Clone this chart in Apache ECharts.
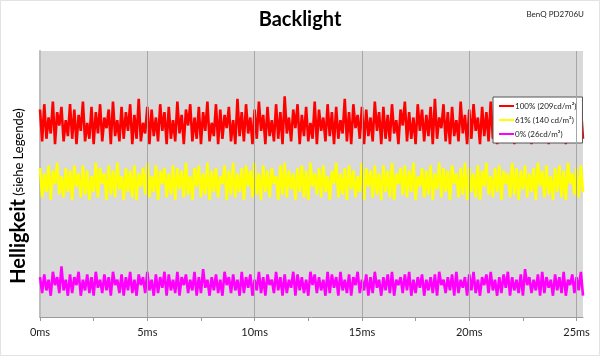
<!DOCTYPE html>
<html><head><meta charset="utf-8">
<script src="https://cdn.jsdelivr.net/npm/echarts@6/dist/echarts.min.js"></script>
<style>html,body{margin:0;padding:0;background:#fff}#c{width:598px;height:354px;border:1px solid #e3e3e3}</style>
</head><body><div id="c"></div>
<script>
const stepMs = 0.1;
const xLabelMs = [0, 5, 10, 15, 20, 25];
const xTickMs = [0, 2.5, 5, 7.5, 10, 12.5, 15, 17.5, 20, 22.5, 25];
const seriesNames = ['100% (209cd/m²)', '61% (140 cd/m²)', '0% (26cd/m²)'];
const red = [
78,66,80,67,75,69,81,65,77,72,79,66,74,68,80,67,78,65,76,70,
81,66,73,67,79,65,77,69,80,66,75,71,78,65,81,68,74,66,79,67,
77,70,80,65,76,67,82,66,73,69,79,65,78,68,75,66,80,70,77,65,
79,67,74,66,81,69,76,65,78,72,80,66,75,67,79,65,77,70,81,66,
73,68,80,65,78,67,76,71,79,66,74,65,82,68,77,66,80,69,75,65,
78,67,81,70,76,65,79,68,74,66,80,67,77,65,83,69,75,66,78,71,
80,65,76,68,79,66,73,67,81,65,78,70,75,66,80,68,77,65,79,67,
74,69,82,66,77,65,80,71,76,67,79,65,78,68,75,66,81,70,77,65,
79,67,76,66,80,69,74,65,78,72,81,66,77,67,75,65,80,70,78,66,
76,68,79,65,82,67,75,71,80,66,77,65,79,68,74,66,81,69,76,65,
78,67,80,70,75,65,79,68,77,66,81,67,74,65,78,69,80,66,76,71,
79,65,77,68,81,66,75,67,80,65,78,70,76,66,79,68,82,65,77,67,
80,69,75,66,79,65,77,71,81,66,76,68,79,67];
const yellow = [
56,45,54,47,57,44,55,50,58,46,53,45,56,47,55,44,57,49,54,45,
57,46,55,44,53,47,58,45,56,50,54,44,57,46,55,45,58,48,53,44,
56,47,55,45,57,44,54,49,56,46,58,45,53,47,57,44,55,50,56,45,
54,46,57,44,56,48,55,45,58,46,53,44,56,49,57,45,54,46,58,44,
55,47,56,45,53,50,57,44,55,46,58,45,54,47,56,44,57,49,55,45,
58,46,54,44,57,47,55,45,56,50,53,44,57,46,58,45,55,48,54,44,
56,47,57,45,55,44,58,49,54,46,56,45,57,47,53,44,55,50,58,45,
54,46,56,44,57,48,55,45,53,47,58,44,56,49,55,45,57,46,54,44,
57,47,55,45,58,44,54,50,56,46,57,45,55,47,58,44,53,49,56,45,
55,46,57,44,54,48,58,45,56,47,55,44,57,50,54,45,56,46,58,44,
56,47,54,45,57,44,55,49,58,46,53,45,56,47,57,44,55,50,54,45,
58,46,56,44,55,48,57,45,54,47,56,44,58,49,55,45,57,46,53,44,
56,47,57,45,55,44,58,50,54,46,56,45,57,47];
const magenta = [
15,9,16,10,14,8,17,12,15,9,19,10,14,8,16,9,15,12,17,8,
14,10,16,9,15,8,17,11,14,9,16,10,15,8,17,12,14,9,16,8,
15,10,17,9,14,8,16,12,15,9,17,10,14,8,16,9,15,11,17,8,
16,10,14,9,17,8,15,12,16,9,14,10,17,8,15,9,18,11,14,8,
15,10,16,9,14,8,17,12,15,9,16,10,14,8,17,9,15,11,16,8,
14,10,17,9,15,8,16,12,14,9,17,10,15,8,16,9,14,11,17,8,
16,10,15,9,14,8,17,12,16,9,15,10,14,8,17,9,16,11,15,8,
17,10,14,9,16,8,15,12,17,9,14,10,16,8,15,9,17,11,14,8,
15,10,16,9,17,8,14,12,15,9,16,10,17,8,14,9,15,11,16,8,
14,10,15,9,16,8,17,12,14,9,15,10,16,8,17,9,14,11,15,8,
16,10,17,9,14,8,15,12,16,9,17,10,14,8,15,9,16,11,17,8,
15,10,14,9,16,8,18,12,15,9,14,10,16,8,17,9,15,11,14,8,
16,10,15,9,17,8,14,12,16,9,15,10,17,8];

const toPairs = arr => arr.map((v, i) => [+(i * stepMs).toFixed(2), v]);
const colors = ['#ff0000', '#ffff00', '#ff00ff'];
const font = 'Lato, "Open Sans", sans-serif';

const chart = echarts.init(document.getElementById('c'), null, {renderer: 'canvas'});
chart.setOption({
  animation: false,
  backgroundColor: '#fff',
  grid: {left: 39, right: 16, top: 50, bottom: 38, show: true, backgroundColor: '#d9d9d9', borderWidth: 0},
  title: [
    {text: 'Backlight', left: 'center', top: 4, textStyle: {fontFamily: font, fontSize: 20, fontWeight: 'bold', color: '#000'}},
    {text: 'BenQ PD2706U', right: 10, top: 4, textStyle: {fontFamily: font, fontSize: 8, fontWeight: 'normal', color: '#222'}}
  ],
  legend: {
    orient: 'vertical', left: 492, top: 96, padding: [5, 6, 5, 6], itemGap: 6,
    backgroundColor: '#fff', borderColor: '#555', borderWidth: 1,
    itemWidth: 15, itemHeight: 2, icon: 'rect',
    textStyle: {fontFamily: font, fontSize: 8, color: '#222', padding: [0, 0, 0, -4]},
    data: seriesNames
  },
  xAxis: {
    type: 'value', min: 0, max: 25.3, interval: 5,
    axisLine: {show: true, lineStyle: {color: '#9a9a9a', width: 1}},
    axisTick: {show: true, length: 4, customValues: xTickMs, lineStyle: {color: '#9a9a9a'}},
    minorTick: {show: false},
    splitLine: {show: false},
    axisLabel: {
      fontFamily: font, fontSize: 11, color: '#222', margin: 10,
      customValues: xLabelMs, formatter: v => v + 'ms'
    }
  },
  yAxis: {
    type: 'value', min: 0, max: 100,
    axisLine: {show: true, lineStyle: {color: '#bdbdbd', width: 2}},
    axisTick: {show: false}, axisLabel: {show: false}, splitLine: {show: false}
  },
  graphic: [{
    type: 'text', x: 18, y: 195, rotation: Math.PI / 2,
    style: {
      text: '{a|Helligkeit} {b|(siehe Legende)}',
      align: 'center', verticalAlign: 'middle',
      rich: {
        a: {fontFamily: font, fontSize: 20, fontWeight: 'bold', fill: '#000'},
        b: {fontFamily: font, fontSize: 13, fill: '#000'}
      }
    }
  }],
  series: [{
    type: 'line', data: [], z: 1, silent: true,
    markLine: {
      silent: true, symbol: 'none', label: {show: false},
      lineStyle: {color: '#a6a6a6', width: 1, type: 'solid'},
      data: xLabelMs.filter(v => v > 0).map(v => ({xAxis: v}))
    }
  }].concat([red, yellow, magenta].map((arr, k) => ({
    name: seriesNames[k], type: 'line', data: toPairs(arr), showSymbol: false, z: 3,
    lineStyle: {color: colors[k], width: 2.6}, itemStyle: {color: colors[k]}
  })))
});
</script></body></html>
